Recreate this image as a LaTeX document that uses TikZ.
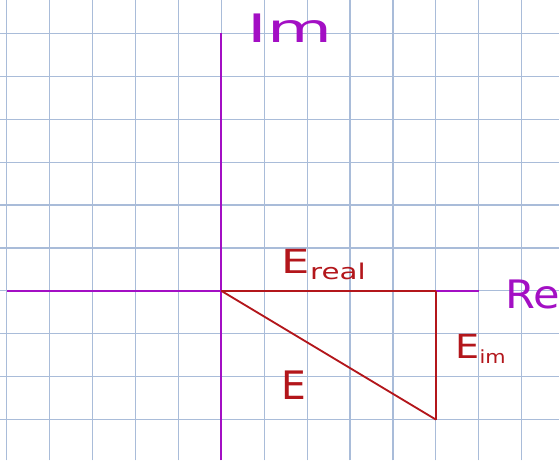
\documentclass[tikz,border=0pt]{standalone}
\usepackage{fontspec}
\setsansfont{DejaVu Sans}
\definecolor{gridblue}{HTML}{A9BCD9}
\definecolor{axispurple}{HTML}{A30FC4}
\definecolor{phasorred}{HTML}{B3161B}
\begin{document}
\begin{tikzpicture}[scale=1, font=\sffamily]
    % Styles
    \tikzset{grid line/.style={draw=gridblue, line width=0.8pt},
             axis line/.style={draw=axispurple, line width=1.3pt},
             phasor line/.style={draw=phasorred, line width=1.2pt},
             axis label/.style={text=axispurple, font=\sffamily\fontsize{26}{26}\selectfont},
             phasor label/.style={text=phasorred, font=\sffamily\fontsize{22}{22}\selectfont}}

    % Canvas and grid paper
    \useasboundingbox[fill=white] (-5.16,-3.95) rectangle (7.87,6.78);
    \draw[grid line] (-5.16,-3.95) grid (7.87,6.78);

    % Axes
    \coordinate (origin) at (0, 0);
    \coordinate (im top) at (0, 6);
    \coordinate (im bottom) at (0, -3.95);
    \coordinate (re left) at (-5, 0);
    \coordinate (re right) at (6, 0);
    \draw[axis line] (im bottom) -- (im top);
    \draw[axis line] (re left) -- (re right);
    \node[axis label, xscale=1.7] (im) at (1.6, 6.12) {Im};
    \node[axis label, xscale=1.1] (re) at (7.25, -0.08) {Re};

    % Phasor triangle
    \coordinate (real end) at (5, 0);
    \coordinate (tip) at (5, -3);
    \draw[phasor line] (origin) -- (real end);
    \draw[phasor line] (real end) -- (tip);
    \draw[phasor line] (origin) -- (tip);

    % Labels
    \node[phasor label, xscale=1.35] (ereal) at (2.4, 0.62) {E\textsubscript{\Large real}};
    \node[phasor label, xscale=1.15] (eim) at (6.05, -1.35) {E\textsubscript{\large im}};
    \node[phasor label, font=\sffamily\fontsize{26}{26}\selectfont] (e) at (1.7, -2.2) {E};
\end{tikzpicture}
\end{document}
